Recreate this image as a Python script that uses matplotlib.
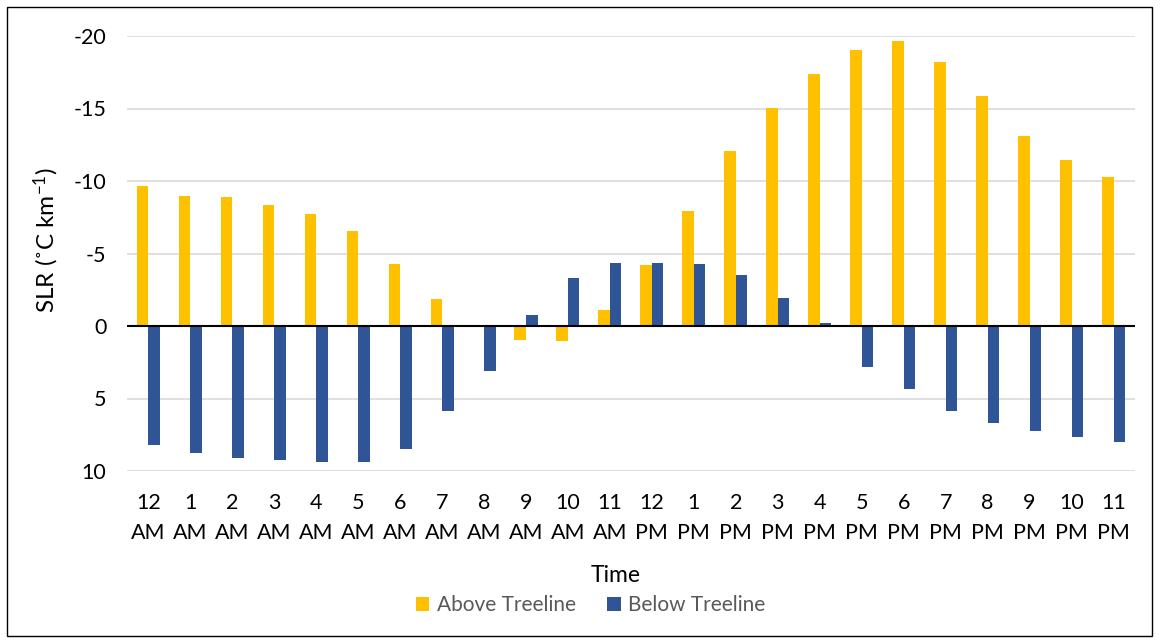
import matplotlib
matplotlib.use("Agg")
import matplotlib.pyplot as plt
import numpy as np
from matplotlib.patches import Rectangle

plt.rcParams['font.family'] = ['Lato', 'DejaVu Sans']
plt.rcParams['mathtext.fontset'] = 'custom'
plt.rcParams['mathtext.rm'] = 'Lato'
plt.rcParams['mathtext.it'] = 'Lato:italic'
plt.rcParams['axes.unicode_minus'] = False

hours = ["12\nAM", "1\nAM", "2\nAM", "3\nAM", "4\nAM", "5\nAM", "6\nAM", "7\nAM",
         "8\nAM", "9\nAM", "10\nAM", "11\nAM", "12\nPM", "1\nPM", "2\nPM", "3\nPM",
         "4\nPM", "5\nPM", "6\nPM", "7\nPM", "8\nPM", "9\nPM", "10\nPM", "11\nPM"]

above_treeline = [-9.66, -8.94, -8.90, -8.34, -7.75, -6.58, -4.28, -1.86,
                  0.0, 0.94, 1.03, -1.13, -4.23, -7.93, -12.07, -15.05,
                  -17.38, -19.03, -19.66, -18.18, -15.84, -13.08, -11.43, -10.30]

below_treeline = [8.23, 8.76, 9.08, 9.24, 9.38, 9.40, 8.46, 5.86,
                  3.13, -0.74, -3.34, -4.37, -4.34, -4.30, -3.49, -1.93,
                  -0.18, 2.85, 4.37, 5.84, 6.71, 7.26, 7.66, 8.00]

y_ticks = [-20, -15, -10, -5, 0, 5, 10]

gold = "#FFC000"
navy = "#2F5597"

fig = plt.figure(figsize=(11.6, 6.42), dpi=100)
ax = fig.add_axes([127.3 / 1160, 1 - 471 / 642, (1134.5 - 127.3) / 1160, (471 - 36) / 642])

x = np.arange(len(hours))
w = 0.275
ax.bar(x - w / 2, above_treeline, width=w, color=gold, label="Above Treeline", zorder=3)
ax.bar(x + w / 2, below_treeline, width=w, color=navy, label="Below Treeline", zorder=3)

ax.set_xlim(-0.5, len(hours) - 0.5)
ax.set_ylim(10, -20)
ax.set_yticks(y_ticks)
ax.set_yticklabels([str(t) for t in y_ticks])
ax.yaxis.grid(True, color="#D9D9D9", linewidth=1.2, zorder=0)
ax.axhline(0, color="black", linewidth=1.5, zorder=4)

for s in ax.spines.values():
    s.set_visible(False)
ax.tick_params(axis="both", length=0, colors="#000000")
ax.tick_params(axis="y", pad=15, labelsize=15.5)
ax.tick_params(axis="x", pad=16, labelsize=15.5)
ax.set_xticks(x)
ax.set_xticklabels(hours, linespacing=1.62)

ax.set_ylabel("SLR (\u02daC km$^{\\mathrm{-1}}$)", fontsize=17.5)
ax.yaxis.set_label_coords(-0.066, 0.53)
ax.set_xlabel("Time", fontsize=16.5)
ax.xaxis.set_label_coords(0.485, -0.215)

leg = fig.legend(loc="center", bbox_to_anchor=(590.5 / 1160, 1 - 605 / 642), ncol=2,
                 frameon=False, fontsize=15, handlelength=0.65, handleheight=0.65,
                 handletextpad=0.35, columnspacing=1.5)
for t in leg.get_texts():
    t.set_color("#595959")

fig.patches.append(Rectangle((7 / 1160, 1 - 636 / 642), 1145 / 1160, 629 / 642,
                             transform=fig.transFigure, fill=False,
                             edgecolor="black", linewidth=1.0))

fig.savefig("out.png", dpi=100)
